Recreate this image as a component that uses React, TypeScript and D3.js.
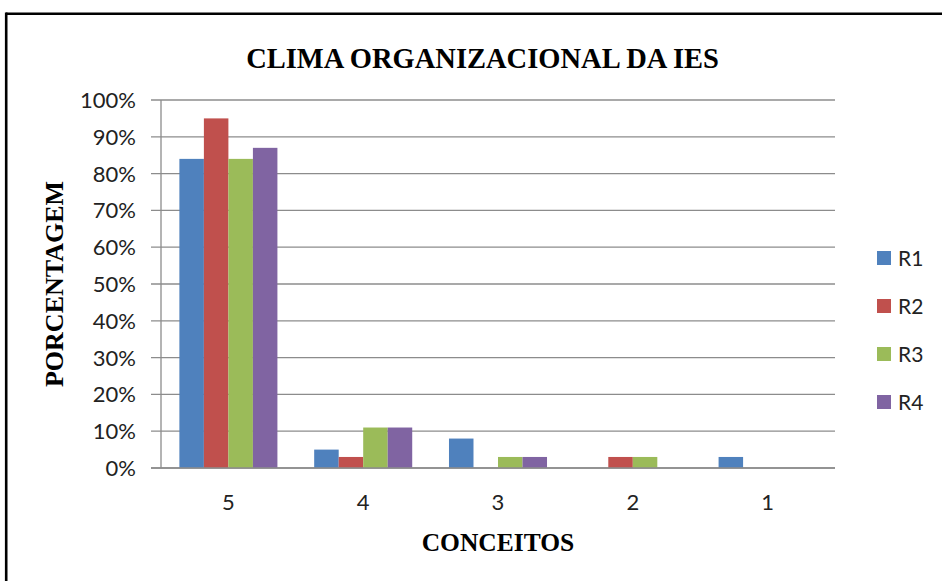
import React from "react";
import * as d3 from "d3";

const categories = ["5", "4", "3", "2", "1"];
const seriesNames = ["R1", "R2", "R3", "R4"];
const r1 = [84, 5, 8, 0, 3];
const r2 = [95, 3, 0, 3, 0];
const r3 = [84, 11, 3, 3, 0];
const r4 = [87, 11, 3, 0, 0];
const yTicks = [0, 10, 20, 30, 40, 50, 60, 70, 80, 90, 100];
const colors = ["#4F81BD", "#C0504D", "#9BBB59", "#8064A2"];
const title = "CLIMA ORGANIZACIONAL DA IES";
const yTitle = "PORCENTAGEM";
const xTitle = "CONCEITOS";

const W = 942;
const H = 581;
const plotLeft = 161;
const plotRight = 835;
const plotTop = 100;
const plotBottom = 468;

export default function App() {
  const series = [r1, r2, r3, r4];
  const x0 = d3.scaleBand<string>().domain(categories).range([plotLeft, plotRight]).paddingInner(0).paddingOuter(0);
  const bw = x0.bandwidth();
  const gap = bw * 1.5 / 5.5 / 2;
  const x1 = d3
    .scaleBand<string>()
    .domain(seriesNames)
    .range([gap, bw - gap])
    .padding(0);
  const y = d3.scaleLinear().domain([0, 100]).range([plotBottom, plotTop]);
  const tickFont = "Lato, 'Open Sans', sans-serif";
  const serif = "'Liberation Serif', 'Times New Roman', serif";
  const legendY = d3.scalePoint<string>().domain(seriesNames).range([258, 402]);

  return (
    <svg
      width={W}
      height={H}
      style={{ position: "absolute", left: 0, top: 0, background: "#fff" }}
    >
      <rect x={0} y={0} width={W} height={H} fill="#fff" />
      {/* frame */}
      <line x1={6} y1={13.8} x2={W} y2={13.8} stroke="#000" strokeWidth={2.6} />
      <line x1={6.2} y1={12.5} x2={6.2} y2={H} stroke="#000" strokeWidth={2.6} />

      <text
        x={482.5}
        y={68}
        textAnchor="middle"
        fontFamily={serif}
        fontWeight="bold"
        fontSize={28.5}
        fill="#000"
      >
        {title}
      </text>

      {/* gridlines */}
      {yTicks.map((t) => (
        <line
          key={"g" + t}
          x1={151}
          x2={plotRight}
          y1={y(t)}
          y2={y(t)}
          stroke="#8c8c8c"
          strokeWidth={1.3}
        />
      ))}
      <line x1={plotLeft} x2={plotLeft} y1={plotTop} y2={plotBottom} stroke="#8c8c8c" strokeWidth={1.3} />

      {yTicks.map((t) => (
        <text
          key={"t" + t}
          x={136}
          y={y(t)}
          dy="0.36em"
          textAnchor="end"
          fontFamily={tickFont}
          fontSize={22}
          fill="#222"
        >
          {t + "%"}
        </text>
      ))}

      {/* bars */}
      {categories.map((c, ci) => (
        <g key={c} transform={`translate(${x0(c)},0)`}>
          {series.map((s, si) =>
            s[ci] > 0 ? (
              <rect
                key={si}
                x={x1(seriesNames[si])}
                y={y(s[ci])}
                width={x1.bandwidth()}
                height={plotBottom - y(s[ci])}
                fill={colors[si]}
              />
            ) : null
          )}
        </g>
      ))}
      <line x1={151} x2={plotRight} y1={plotBottom} y2={plotBottom} stroke="#8c8c8c" strokeWidth={1.3} />

      {categories.map((c) => (
        <text
          key={"c" + c}
          x={(x0(c) as number) + bw / 2}
          y={510}
          textAnchor="middle"
          fontFamily={tickFont}
          fontSize={22}
          fill="#222"
        >
          {c}
        </text>
      ))}

      <text
        x={498}
        y={551}
        textAnchor="middle"
        fontFamily={serif}
        fontWeight="bold"
        fontSize={25.5}
        fill="#000"
      >
        {xTitle}
      </text>

      <text
        transform={`translate(62.5,284) rotate(-90)`}
        textAnchor="middle"
        fontFamily={serif}
        fontWeight="bold"
        fontSize={26}
        fill="#000"
      >
        {yTitle}
      </text>

      {/* legend */}
      {seriesNames.map((n, i) => (
        <g key={n}>
          <rect x={877} y={(legendY(n) as number) - 7} width={14} height={14} fill={colors[i]} />
          <text
            x={898}
            y={legendY(n) as number}
            dy="0.36em"
            fontFamily={tickFont}
            fontSize={21}
            fill="#222"
          >
            {n}
          </text>
        </g>
      ))}
    </svg>
  );
}
